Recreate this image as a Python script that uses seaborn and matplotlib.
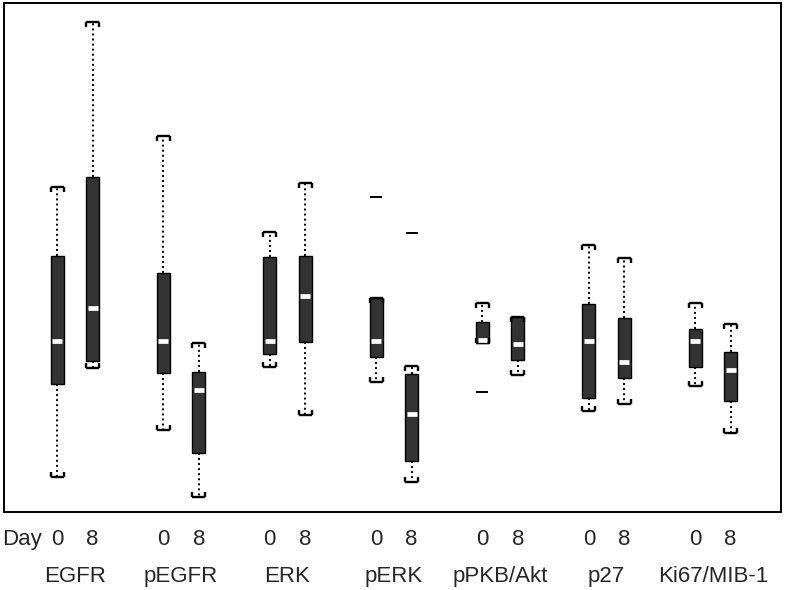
import numpy as np
import pandas as pd
import matplotlib
matplotlib.use("Agg")
import matplotlib.pyplot as plt
import seaborn as sns
from matplotlib.path import Path
from matplotlib.markers import MarkerStyle

# ---------------- data (relative expression, arbitrary units) ----------------
markers = ["EGFR", "pEGFR", "ERK", "pERK", "pPKB/Akt", "p27", "Ki67/MIB-1"]
days = ["0", "8"]

# one entry per box: EGFR d0, EGFR d8, pEGFR d0, pEGFR d8, ...
whisker_low = [0.35, 1.44, 0.82, 0.15, 1.45, 0.97, 1.30, 0.30, 1.69, 1.37, 1.01, 1.08, 1.26, 0.79]
q1          = [1.28, 1.51, 1.39, 0.59, 1.58, 1.70, 1.55, 0.51, 1.69, 1.52, 1.14, 1.34, 1.45, 1.11]
median      = [1.71, 2.04, 1.71, 1.22, 1.71, 2.16, 1.71, 0.98, 1.72, 1.68, 1.71, 1.50, 1.71, 1.42]
q3          = [2.56, 3.35, 2.39, 1.40, 2.55, 2.56, 2.14, 1.38, 1.90, 1.95, 2.08, 1.94, 1.83, 1.60]
whisker_high= [3.25, 4.90, 3.76, 1.69, 2.80, 3.29, 2.14, 1.46, 2.09, 1.95, 2.67, 2.54, 2.09, 1.88]

outlier_marker = ["pERK", "pERK", "pPKB/Akt"]
outlier_day    = ["0", "8", "0"]
outlier_value  = [3.15, 2.79, 1.20]

# ---------------- build long table ----------------
def pos_of(marker, day):
    return 3 * markers.index(marker) + days.index(day)

rows = []
k = 0
for m in markers:
    for d in days:
        for v in (whisker_low[k], q1[k], median[k], q3[k], whisker_high[k]):
            rows.append({"pos": pos_of(m, d), "value": v})
        k += 1
df = pd.DataFrame(rows)
out_df = pd.DataFrame({"pos": [pos_of(m, d) for m, d in zip(outlier_marker, outlier_day)],
                       "value": outlier_value})

# ---------------- style ----------------
sns.set_style("white")
plt.rcParams["font.family"] = ["Liberation Sans", "DejaVu Sans"]

fig = plt.figure(figsize=(7.86, 5.90), dpi=100)
ax = fig.add_axes([0.005, 0.1322, 0.9886, 0.8627])

box_w = 0.37
sns.boxplot(data=df, x="pos", y="value", orient="x", native_scale=True,
            width=box_w, whis=(0, 100), color="#333333", saturation=1,
            linecolor="black", linewidth=1.0, fliersize=0,
            medianprops=dict(color="white", linewidth=3.4, solid_capstyle="butt"),
            whiskerprops=dict(color="black", linewidth=1.4, linestyle=(0, (1, 1.6))),
            capprops=dict(color="black", linewidth=1.7),
            ax=ax)

sns.scatterplot(data=out_df, x="pos", y="value", marker="_", s=85,
                color="black", linewidth=1.4, ax=ax, zorder=5)

# bracket-style caps and inset medians
tick_down = MarkerStyle(Path([(0, 0), (0, -1)], [Path.MOVETO, Path.LINETO]))
tick_up = MarkerStyle(Path([(0, 0), (0, 1)], [Path.MOVETO, Path.LINETO]))
for cont in ax.containers:
    if not hasattr(cont, "caps"):
        continue
    for j, cap in enumerate(cont.caps):
        xd = np.asarray(cap.get_xdata(), dtype=float)
        c = xd.mean()
        cap.set_xdata([c - box_w / 2, c + box_w / 2])
        cap.set_marker(tick_up if j % 2 == 0 else tick_down)
        cap.set_markersize(7)
        cap.set_markeredgewidth(1.7)
        cap.set_markeredgecolor("black")
        cap.set_solid_capstyle("butt")
        cap.set_zorder(4)
    for med in cont.medians:
        xd = np.asarray(med.get_xdata(), dtype=float)
        c = xd.mean()
        med.set_xdata([c - box_w * 0.38, c + box_w * 0.38])
        med.set_zorder(4)

ax.set_xlim(-1.5, 20.42)
ax.set_ylim(0, 5.09)
ax.set_yticks([])
ax.set_xlabel("")
ax.set_ylabel("")

positions = [pos_of(m, d) for m in markers for d in days]
ax.set_xticks([-1] + positions, ["Day"] + days * len(markers))
ax.set_xticks([3 * i + 0.5 for i in range(len(markers))], markers, minor=True)
ax.tick_params(axis="x", which="major", length=0, pad=12, labelsize=16)
ax.tick_params(axis="x", which="minor", length=0, pad=39, labelsize=16)

for s in ax.spines.values():
    s.set_visible(True)
    s.set_color("black")
    s.set_linewidth(1.4)

fig.savefig("out.png", dpi=100)
